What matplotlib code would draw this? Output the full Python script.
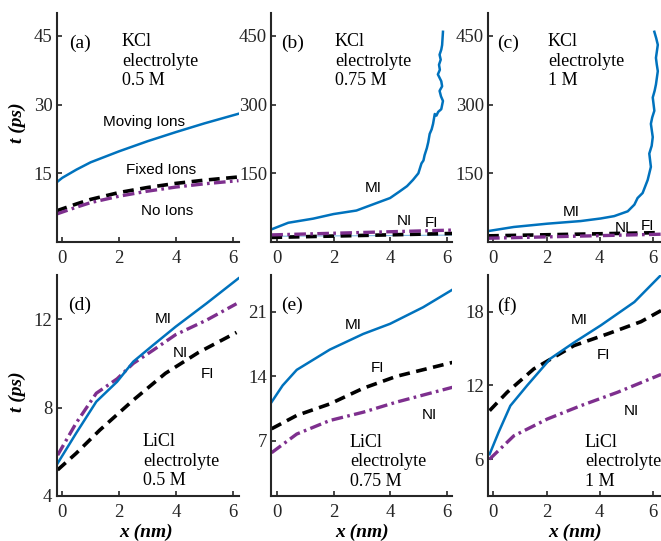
import matplotlib
matplotlib.use("Agg")
import matplotlib.pyplot as plt

W, H = 661, 541

blue = "#0072BD"
purple = "#7E2F8E"

# ---- panel data (x in nm, t in ps) ----
# (a) KCl 0.5 M
a_mi_x = [-0.2, 0.0, 0.5, 1.0, 2.0, 3.0, 4.0, 5.0, 6.2]
a_mi_t = [13.0, 14.0, 15.8, 17.4, 19.8, 22.0, 24.0, 25.9, 28.0]
a_fi_x = [-0.2, 0.5, 1.0, 2.0, 3.0, 4.0, 5.0, 6.2]
a_fi_t = [6.8, 8.3, 9.3, 10.8, 11.9, 12.8, 13.5, 14.2]
a_ni_x = [-0.2, 0.5, 1.0, 2.0, 3.0, 4.0, 5.0, 6.2]
a_ni_t = [6.1, 7.6, 8.6, 10.0, 11.1, 12.0, 12.7, 13.4]

# (b) KCl 0.75 M
b_mi_x = [-0.19, 0.4, 1.28, 2.0, 2.81, 3.52, 4.0, 4.34, 4.6, 4.81, 5.0, 5.11,
          5.18, 5.22, 5.3, 5.35, 5.4, 5.47, 5.52, 5.58, 5.64, 5.7, 5.81, 5.87,
          5.8, 5.75, 5.84, 5.81, 5.69, 5.76, 5.73, 5.79, 5.75, 5.81, 5.84, 5.87]
b_mi_t = [27.7, 42, 51, 61, 68.7, 85, 96, 110.5, 122, 135.6, 150, 171.6,
          178, 189.5, 205, 218, 236, 246, 258, 279.5, 276, 284, 290, 308,
          318, 330, 340, 351, 366, 376, 387, 398, 409, 420, 430, 459]
b_ni_x = [-0.2, 6.2]
b_ni_t = [15.5, 26.0]
b_fi_x = [-0.2, 6.2]
b_fi_t = [10.0, 18.6]
b_thin_x = [-0.2, 6.2]
b_thin_t = [12.5, 15.0]

# (c) KCl 1 M
c_mi_x = [-0.18, 0.77, 2.03, 3.28, 4.04, 4.54, 5.05, 5.3, 5.42, 5.61, 5.8,
          5.92, 5.86, 5.95, 5.99, 5.92, 5.97, 6.05, 5.99, 6.06, 6.11, 6.18,
          6.14, 6.11, 6.18, 6.12, 6.05]
c_mi_t = [24, 32.8, 40, 45.7, 51.4, 56.5, 67, 81.6, 96, 107, 135.5,
          164, 193, 210, 229, 258, 272, 286.6, 315.5, 330, 344, 373,
          388, 402, 430.5, 445, 459]
c_ni_x = [-0.2, 6.3]
c_ni_t = [8.2, 17.0]
c_fi_x = [-0.2, 6.3]
c_fi_t = [13.4, 20.5]

# (d) LiCl 0.5 M
d_mi_x = [-0.16, 0.49, 1.2, 1.93, 2.5, 3.2, 3.99, 5.08, 6.2]
d_mi_t = [5.48, 6.84, 8.27, 9.17, 10.08, 10.83, 11.66, 12.72, 13.85]
d_ni_x = [-0.16, 0.49, 1.2, 1.93, 2.5, 3.2, 3.99, 5.08, 6.13]
d_ni_t = [5.85, 7.3, 8.65, 9.3, 10.0, 10.6, 11.3, 11.96, 12.7]
d_fi_x = [-0.16, 0.49, 1.32, 2.5, 3.63, 4.8, 6.13]
d_fi_t = [5.18, 5.93, 6.98, 8.34, 9.55, 10.5, 11.4]

# (e) LiCl 0.75 M
e_mi_x = [-0.19, 0.2, 0.7, 1.87, 3.05, 4.0, 5.17, 6.2]
e_mi_t = [11.2, 13.0, 14.7, 16.9, 18.6, 19.7, 21.5, 23.4]
e_fi_x = [-0.19, 0.7, 1.87, 3.05, 4.23, 6.2]
e_fi_t = [8.3, 9.75, 11.0, 12.7, 14.0, 15.5]
e_ni_x = [-0.19, 0.7, 1.87, 3.05, 4.23, 6.2]
e_ni_t = [5.7, 7.73, 9.2, 10.1, 11.2, 12.8]

# (f) LiCl 1 M
f_mi_x = [-0.14, 0.2, 0.64, 1.27, 2.15, 3.03, 4.04, 5.3, 6.3]
f_mi_t = [6.4, 8.2, 10.35, 12.0, 14.2, 15.5, 16.9, 18.8, 21.0]
f_fi_x = [-0.14, 0.52, 1.52, 3.03, 4.29, 5.55, 6.3]
f_fi_t = [9.95, 11.45, 13.35, 15.25, 16.2, 17.2, 18.1]
f_ni_x = [-0.14, 0.77, 2.03, 3.28, 4.67, 6.3]
f_ni_t = [6.0, 7.9, 9.27, 10.35, 11.45, 12.9]

xticks = [0, 2, 4, 6]
yticks = {"a": [15, 30, 45], "b": [150, 300, 450], "c": [150, 300, 450],
          "d": [4, 8, 12], "e": [7, 14, 21], "f": [6, 12, 18]}
ylims = {"a": (0, 50), "b": (0, 500), "c": (0, 500),
         "d": (4, 14), "e": (1, 25), "f": (3, 21)}

serif = "Liberation Serif"
sans = "Liberation Sans"

fig = plt.figure(figsize=(W / 100, H / 100), dpi=100)


def px_axes(left, top, right, bottom):
    return fig.add_axes([left / W, 1 - bottom / H, (right - left) / W, (bottom - top) / H])


def style(ax, key, xmax=6.2):
    ax.set_xlim(-0.2, xmax)
    ax.set_ylim(*ylims[key])
    ax.set_xticks(xticks)
    ax.set_yticks(yticks[key])
    for s in ["top", "right"]:
        ax.spines[s].set_visible(False)
    for s in ["left", "bottom"]:
        ax.spines[s].set_linewidth(1.5)
        ax.spines[s].set_color("#262626")
    ax.tick_params(direction="in", length=3.5, width=1.2, labelsize=13.5,
                   colors="#262626")
    ax.tick_params(axis="x", pad=6)
    ax.tick_params(axis="y", pad=3)
    for lab in ax.get_xticklabels() + ax.get_yticklabels():
        lab.set_fontfamily(serif)
        lab.set_color("#262626")
    ax.patch.set_alpha(0)


def plot_set(ax, mi, fi, ni):
    ax.plot(*fi, color="black", lw=2.6, dashes=(3, 1.8), solid_capstyle="butt")
    ax.plot(*ni, color=purple, lw=2.4, dashes=(3.5, 1.3, 0.8, 1.3))
    ax.plot(*mi, color=blue, lw=1.8)


def ftext(px, py, s, **kw):
    fig.text(px / W, 1 - py / H, s, **kw)


ax_a = px_axes(56.5, 13, 238.5, 242)
ax_b = px_axes(271.3, 13, 452.3, 242)
ax_c = px_axes(488, 13, 661, 242)
ax_d = px_axes(56.5, 275, 238.5, 496)
ax_e = px_axes(271.3, 275, 452.3, 496)
ax_f = px_axes(488, 275, 661, 496)

plot_set(ax_a, (a_mi_x, a_mi_t), (a_fi_x, a_fi_t), (a_ni_x, a_ni_t))
ax_b.plot(b_thin_x, b_thin_t, color="#7fb8e0", lw=0.8)
plot_set(ax_b, (b_mi_x, b_mi_t), (b_fi_x, b_fi_t), (b_ni_x, b_ni_t))
plot_set(ax_c, (c_mi_x, c_mi_t), (c_fi_x, c_fi_t), (c_ni_x, c_ni_t))
plot_set(ax_d, (d_mi_x, d_mi_t), (d_fi_x, d_fi_t), (d_ni_x, d_ni_t))
plot_set(ax_e, (e_mi_x, e_mi_t), (e_fi_x, e_fi_t), (e_ni_x, e_ni_t))
plot_set(ax_f, (f_mi_x, f_mi_t), (f_fi_x, f_fi_t), (f_ni_x, f_ni_t))

style(ax_a, "a")
style(ax_b, "b")
style(ax_c, "c", 6.3)
style(ax_d, "d")
style(ax_e, "e")
style(ax_f, "f", 6.3)

# panel letters and electrolyte notes
for px, py, s in [(69, 43, "(a)"), (281, 43, "(b)"), (497, 43, "(c)"),
                  (68, 305, "(d)"), (281, 305, "(e)"), (497, 306, "(f)")]:
    ftext(px, py, s, family=serif, fontsize=14, ha="left", va="center")

notes = [(122, 61, "KCl\nelectrolyte\n0.5 M"), (335, 61, "KCl\nelectrolyte\n0.75 M"),
         (548, 61, "KCl\nelectrolyte\n1 M"), (143, 461, "LiCl\nelectrolyte\n0.5 M"),
         (350, 462, "LiCl\nelectrolyte\n0.75 M"), (585, 462, "LiCl\nelectrolyte\n1 M")]
for px, py, s in notes:
    ftext(px, py, s, family=serif, fontsize=13, ha="left", va="center",
          linespacing=1.2)

labels = [(144, 122, "Moving Ions"), (161, 170, "Fixed Ions"), (167, 211, "No Ions"),
          (373, 188, "MI"), (404, 221, "NI"), (432, 223, "FI"),
          (571, 212, "MI"), (622, 228, "NI"), (647, 226, "FI"),
          (163, 319, "MI"), (180, 353, "NI"), (208, 374, "FI"),
          (353, 325, "MI"), (377, 368, "FI"), (429, 415, "NI"),
          (579, 320, "MI"), (603, 355, "FI"), (631, 411, "NI")]
for px, py, s in labels:
    ftext(px, py, s, family=sans, fontsize=11, ha="center", va="center")

# axis labels
for py in [123, 392]:
    ftext(17, py, "t (ps)", family=serif, fontsize=14, fontstyle="italic",
          fontweight="bold", rotation=90, ha="center", va="center")
for px in [146, 362, 575]:
    ftext(px, 532, "x (nm)", family=serif, fontsize=14, fontstyle="italic",
          fontweight="bold", ha="center", va="center")

fig.savefig("out.png", dpi=100)
